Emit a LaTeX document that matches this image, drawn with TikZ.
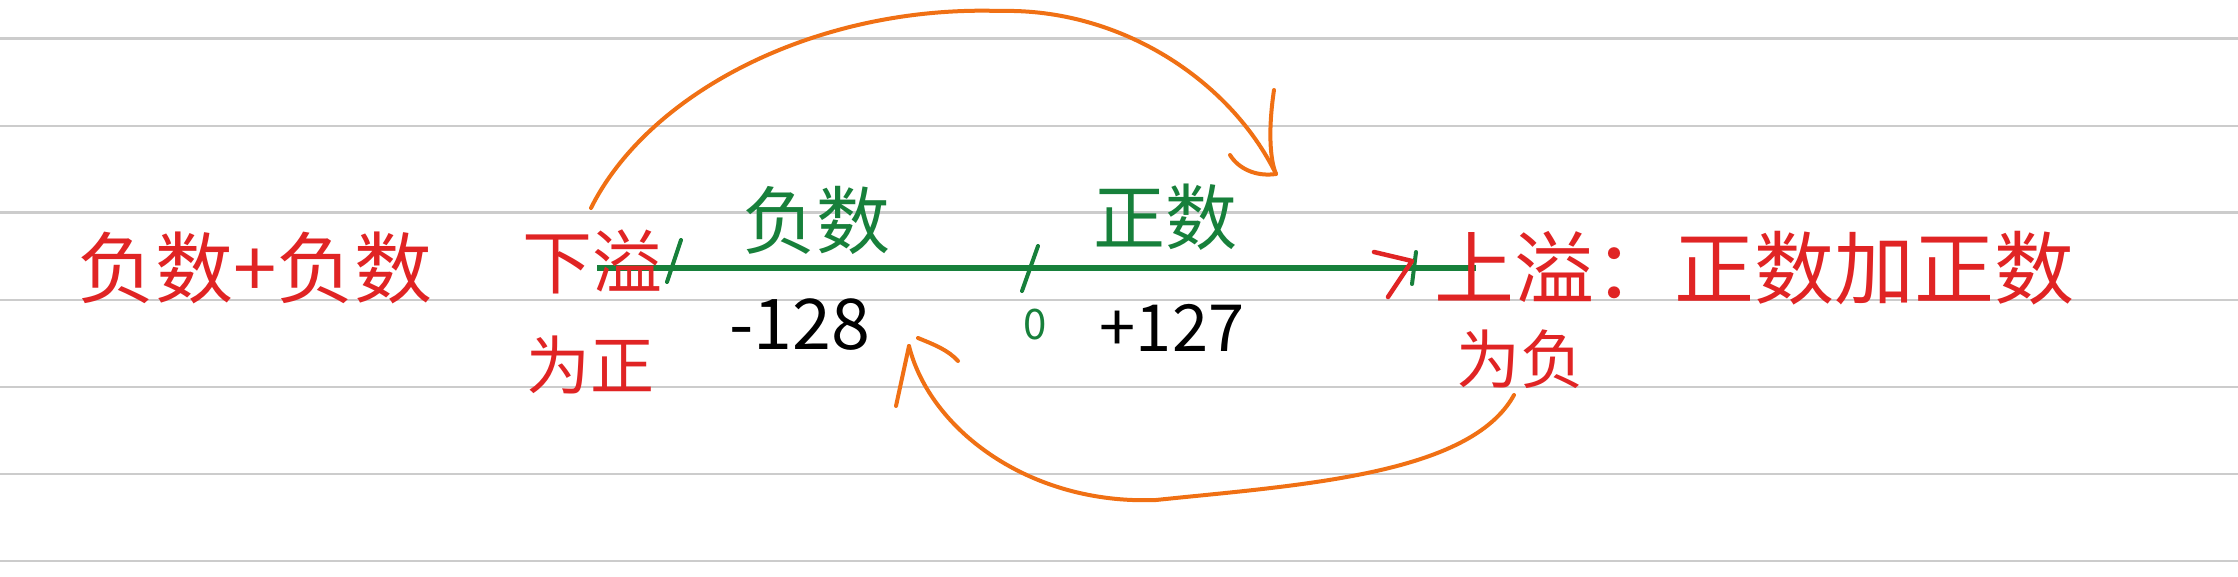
\documentclass[tikz,border=0pt]{standalone}
\usepackage{fontspec}
\setmainfont{Noto Sans CJK SC}
\definecolor{penred}{HTML}{E02424}
\definecolor{pengreen}{HTML}{17803B}
\definecolor{penorange}{HTML}{F07014}
\newcommand{\fs}[1]{\fontsize{#1}{#1}\selectfont}
\begin{document}
\begin{tikzpicture}[x=1pt,y=-1pt,
  rule/.style={draw=black!20, line width=2.5pt},
  redtxt/.style={text=penred, inner sep=0pt},
  greentxt/.style={text=pengreen, inner sep=0pt},
  blacktxt/.style={text=black, inner sep=0pt},
  axis/.style={draw=pengreen, line width=6pt},
  tickmark/.style={draw=pengreen, line width=4pt, line cap=round},
  chevron/.style={draw=penred, line width=4.5pt, line cap=round, line join=round},
  arcline/.style={draw=penorange, line width=4pt, line cap=round, line join=round}]
\fill[white] (0,0) rectangle (2238,577);
\useasboundingbox (0,0) rectangle (2238,577);
\foreach \y in {38.6,125.9,212.7,299.9,386.8,474,560.8}
  \draw[rule] (0,\y) -- (2238,\y);
% axis
\coordinate (axL) at (597,268);
\coordinate (axR) at (1476,268);
\draw[axis] (axL) -- (axR);
\draw[tickmark] (681,240) -- (667,282);
\draw[tickmark] (1038,246) -- (1022,291);
\draw[tickmark] (1416,252) -- (1412,284);
\draw[chevron] (1374,252) -- (1412,261) -- (1388,297);
% texts
\node[redtxt, font=\fs{78}] (sumneg) at (255,268) {负数+负数};
\node[redtxt, font=\fs{70}] (xiayi) at (592,262) {下溢};
\node[redtxt, font=\fs{64}] (weizheng) at (590,365) {为正};
\node[greentxt, font=\fs{74}] (negl) at (816,220) {负数};
\node[greentxt, font=\fs{72}] (posl) at (1165,217) {正数};
\node[blacktxt, font=\fs{70}] (minv) at (800,325) {-128};
\node[greentxt, font=\fs{42}] (zero) at (1035,325) {0};
\node[blacktxt, font=\fs{65}] (maxv) at (1172,328) {+127};
\node[redtxt, font=\fs{80}] (shangyi) at (1754,268) {上溢：正数加正数};
\node[redtxt, font=\fs{64}] (weifu) at (1520,359) {为负};
% top orange arrow
\coordinate (topS) at (591,208);
\coordinate (topE) at (1276,174);
\draw[arcline] (topS) .. controls (650,90) and (820,5) .. (1000,11)
  .. controls (1120,8) and (1230,80) .. (topE);
\draw[arcline] (1274,90) .. controls (1268,130) and (1270,160) .. (topE)
  .. controls (1255,177) and (1238,168) .. (1230,155);
% bottom orange arrow
\coordinate (botS) at (1514,395);
\coordinate (botE) at (909,346);
\draw[arcline] (botS) .. controls (1470,475) and (1300,485) .. (1156,500)
  .. controls (1030,505) and (930,430) .. (botE);
\draw[arcline] (botE) -- (896,406);
\draw[arcline] (918,338) .. controls (935,345) and (948,350) .. (958,361);
\end{tikzpicture}
\end{document}
